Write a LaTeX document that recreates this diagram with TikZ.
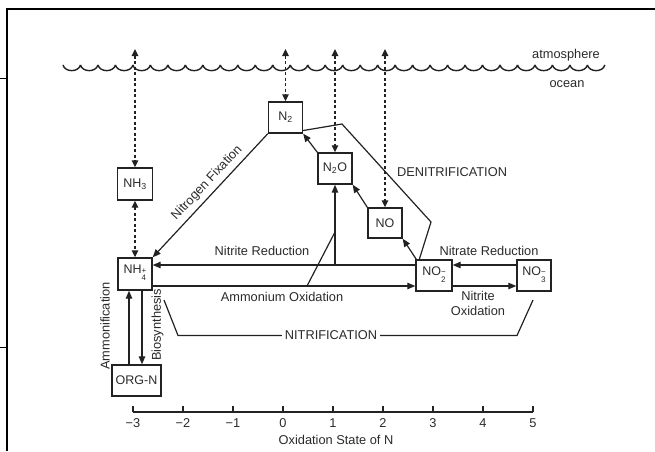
\documentclass[tikz,border=0pt]{standalone}
\usepackage{fontspec}
\setmainfont{Liberation Sans}
\usetikzlibrary{arrows.meta,calc}
\definecolor{ink}{HTML}{222222}
\definecolor{txt}{HTML}{2a2a2a}
\newcommand{\ionss}[2]{\raisebox{-0.6ex}{\fontsize{8}{8}\selectfont\renewcommand{\arraystretch}{0.8}\begin{tabular}{@{}l@{}}#2\\#1\end{tabular}}}
\tikzset{
  box/.style={draw=ink, line width=1.4pt, minimum height=31pt, minimum width=34pt, inner sep=0pt, text=txt, font=\fontsize{12.5}{14}\selectfont},
  flow/.style={draw=ink, line width=1.2pt, -{Triangle[length=8pt,width=6.5pt]}},
  exch/.style={draw=ink, line width=1.2pt, dash pattern=on 3pt off 2.5pt, {Triangle[length=7pt,width=6.5pt]}-{Triangle[length=7pt,width=6.5pt]}},
  plain/.style={draw=ink, line width=1.2pt},
  lbl/.style={text=txt, inner sep=1pt},
}
\begin{document}
\begin{tikzpicture}[x=1pt,y=-1pt, font=\fontsize{12.8}{15}\selectfont]
\useasboundingbox (0,0) rectangle (655,451);
% frame
\draw[line width=2.5pt, black] (7,451) -- (7,9) -- (655,9);
\draw[line width=1pt, black] (0,78) -- (7,78);
\draw[line width=1pt, black] (0,347) -- (7,347);
% sea surface
\draw[ink, line width=1.4pt] foreach \i in {0,...,30} {(63+17.48*\i,65) .. controls (65+17.48*\i,72.5) and (78.48+17.48*\i,72.5) .. (80.48+17.48*\i,65)};
\node[lbl] (atm) at (566,55) {atmosphere};
\node[lbl] (oce) at (567,84) {ocean};
% boxes
\node[box] (N2) at (285.5,117.5) {N\textsubscript{2}};
\node[box, minimum width=35pt, minimum height=32pt] (NH3) at (135,184) {NH\textsubscript{3}};
\node[box] (N2O) at (335,168.5) {N\textsubscript{2}O};
\node[box, minimum height=30pt] (NO) at (385,223) {NO};
\node[box, minimum width=36pt] (NO2) at (434,275.5) {NO\ionss{2}{−}};
\node[box] (NO3) at (534,275.5) {NO\ionss{3}{−}};
\node[box, minimum height=32pt] (NH4) at (135,274) {NH\ionss{4}{+}};
\node[box, minimum width=49pt] (ORG) at (136.5,380.5) {ORG-N};
% exchange with atmosphere
\coordinate (t1) at (135,49);
\coordinate (t2) at (285.5,49);
\coordinate (t3) at (335,49);
\coordinate (t4) at (385,49);
\draw[exch] (t1) -- (NH3.north);
\draw[exch] (NH3.south) -- (NH4.north);
\draw[exch] (t2) -- (N2.north);
\draw[exch] (t3) -- (N2O.north);
\draw[exch] (t4) -- (NO.north);
% fixation
\draw[flow] (N2.south west) -- (NH4.north east);
\node[lbl, rotate=47] (fix) at (207,183) {Nitrogen Fixation};
% denitrification chain
\draw[flow] (N2O.north west) -- (N2.south east);
\draw[flow] (NO.north west) -- (N2O.south east);
\draw[flow] ([xshift=1pt]NO2.north west) -- (NO.south east);
\coordinate (d1) at (431,222);
\coordinate (d2) at (342,124);
\draw[plain] ([xshift=4pt]NO2.north west) -- (d1) -- (d2) -- ([yshift=-13pt]N2.east);
\node[lbl] (den) at (452,172) {DENITRIFICATION};
% horizontal flows
\draw[flow] (NO2.west |- 0,265) -- (NH4.east |- 0,265);
\node[lbl] (nir) at (262,251) {Nitrite Reduction};
\draw[flow] (N2O.south |- 0,265) -- (N2O.south);
\coordinate (ao) at (307,286);
\coordinate (j) at (N2O.south |- 0,232);
\draw[plain] (ao) -- (j);
\draw[flow] (NH4.east |- 0,286) -- (NO2.west |- 0,286);
\node[lbl] (amo) at (282,297) {Ammonium Oxidation};
\draw[flow] (NO3.west |- 0,265) -- (NO2.east |- 0,265);
\node[lbl] (nar) at (489,251) {Nitrate Reduction};
\draw[flow] (NO2.east |- 0,286) -- (NO3.west |- 0,286);
\node[lbl, align=center] (nio) at (478,303.5) {Nitrite\\Oxidation};
% nitrification bracket
\coordinate (b1) at (164,300);
\coordinate (b2) at (178,335.5);
\coordinate (b3) at (517,335.5);
\coordinate (b4) at (533,300);
\draw[plain] (b1) -- (b2) -- (b3) -- (b4);
\node[lbl, fill=white, inner xsep=3pt] (nit) at (331,335.5) {NITRIFICATION};
% organic N
\draw[flow] (129,0 |- ORG.north) -- (129,0 |- NH4.south);
\draw[flow] (142,0 |- NH4.south) -- (142,0 |- ORG.north);
\node[lbl, rotate=90] (amf) at (105,326) {Ammonification};
\node[lbl, rotate=90] (bio) at (157.5,325) {Biosynthesis};
% axis
\coordinate (ax0) at (133,412);
\coordinate (ax1) at (533,412);
\draw[plain] (ax0) -- (ax1);
\foreach \v [count=\k from 0] in {−3,−2,−1,0,1,2,3,4,5} {
  \draw[plain] (133+50*\k,412) -- (133+50*\k,405.5);
  \node[lbl] (tick\k) at (133+50*\k,423.5) {\v};
}
\node[lbl] (xlab) at (336,440) {Oxidation State of N};
\end{tikzpicture}
\end{document}
